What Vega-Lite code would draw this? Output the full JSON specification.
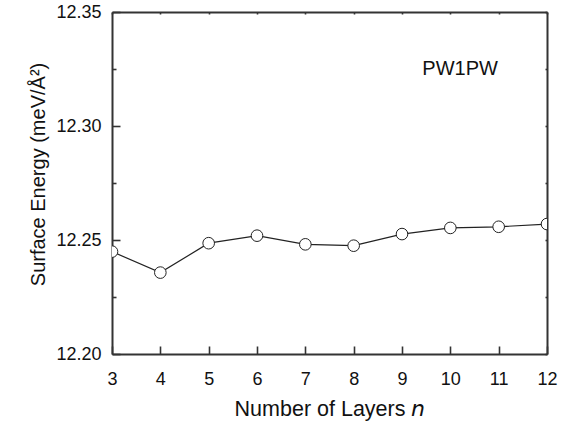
{
  "$schema": "https://vega.github.io/schema/vega-lite/v6.json",
  "width": 435,
  "height": 342,
  "autosize": "none",
  "padding": {"left": 112, "top": 12, "right": 28, "bottom": 77},
  "background": "white",
  "config": {
    "view": {"stroke": null},
    "font": "Liberation Sans",
    "axis": {
      "grid": false,
      "domainColor": "#333",
      "domainWidth": 2,
      "tickColor": "#333",
      "tickWidth": 1.6,
      "labelColor": "#111",
      "titleColor": "#111",
      "labelFont": "Liberation Sans",
      "titleFont": "Liberation Sans",
      "labelFontSize": 18,
      "titleFontSize": 20,
      "titleFontWeight": "normal",
      "labelFlush": false,
      "labelOverlap": false
    }
  },
  "data": {
    "values": [
      {"n": 3, "e": 12.2449},
      {"n": 4, "e": 12.2357},
      {"n": 5, "e": 12.2486},
      {"n": 6, "e": 12.2519},
      {"n": 7, "e": 12.2481},
      {"n": 8, "e": 12.2475},
      {"n": 9, "e": 12.2526},
      {"n": 10, "e": 12.2553},
      {"n": 11, "e": 12.2558},
      {"n": 12, "e": 12.2570}
    ]
  },
  "layer": [
    {
      "mark": {"type": "line", "color": "#222", "strokeWidth": 1.2, "clip": true},
      "encoding": {
        "x": {
          "field": "n", "type": "quantitative",
          "scale": {"domain": [3, 12], "nice": false, "zero": false},
          "axis": {
            "orient": "bottom",
            "values": [3, 4, 5, 6, 7, 8, 9, 10, 11, 12],
            "tickSize": -8,
            "labelPadding": 24,
            "title": "Number of Layers 𝘯",
            "titleFontSize": 21.5,
            "titleY": 61,
            "titleBaseline": "alphabetic"
          }
        },
        "y": {
          "field": "e", "type": "quantitative",
          "scale": {"domain": [12.2, 12.35], "nice": false, "zero": false},
          "axis": {
            "orient": "left",
            "values": [12.2, 12.25, 12.3, 12.35],
            "format": ".2f",
            "tickSize": -8,
            "labelPadding": 19,
            "title": "Surface Energy (meV/Å²)",
            "titleX": -68,
            "titleY": 162,
            "titleAngle": -90,
            "titleBaseline": "alphabetic",
            "titleAlign": "center"
          }
        }
      }
    },
    {
      "mark": {"type": "point", "shape": "circle", "size": 135, "filled": true, "fill": "white", "stroke": "#222", "strokeWidth": 1, "opacity": 1, "clip": true},
      "encoding": {
        "x": {
          "field": "n", "type": "quantitative",
          "axis": {"orient": "top", "values": [3, 4, 5, 6, 7, 8, 9, 10, 11, 12], "tickSize": -2, "labels": false, "title": null}
        },
        "y": {
          "field": "e", "type": "quantitative",
          "axis": {"orient": "right", "values": [12.2, 12.225, 12.25, 12.275, 12.3, 12.325, 12.35], "tickSize": -2, "labels": false, "title": null}
        }
      }
    },
    {
      "mark": {"type": "point", "opacity": 0},
      "encoding": {
        "x": {"field": "n", "type": "quantitative", "axis": null},
        "y": {
          "field": "e", "type": "quantitative",
          "axis": {"orient": "left", "values": [12.225, 12.275, 12.325], "tickSize": -4, "labels": false, "title": null, "domain": false}
        }
      }
    },
    {
      "data": {"values": [{"label": "PW1PW", "x": 9.42, "y": 12.3224}]},
      "mark": {"type": "text", "align": "left", "baseline": "alphabetic", "fontSize": 20, "font": "Liberation Sans", "color": "#111"},
      "encoding": {
        "x": {"field": "x", "type": "quantitative", "axis": null},
        "y": {"field": "y", "type": "quantitative", "axis": null},
        "text": {"field": "label"}
      }
    }
  ],
  "resolve": {"axis": {"x": "independent", "y": "independent"}}
}
